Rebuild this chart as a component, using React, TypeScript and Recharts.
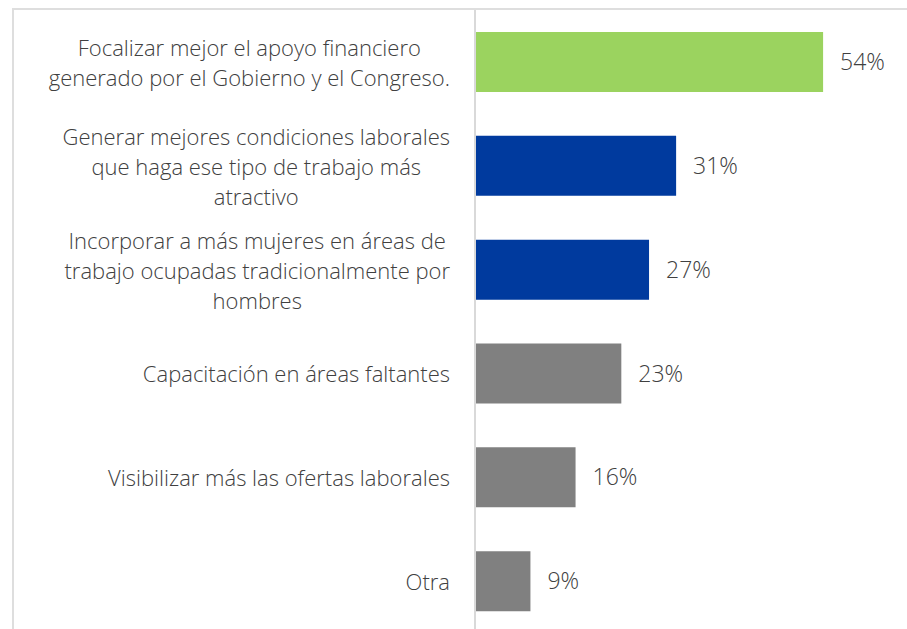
import { BarChart, Bar, XAxis, YAxis, Cell, LabelList } from "recharts";

const categories = [
  ["Focalizar mejor el apoyo financiero", "generado por el Gobierno y el Congreso."],
  ["Generar mejores condiciones laborales", "que haga ese tipo de trabajo más", "atractivo"],
  ["Incorporar a más mujeres en áreas de", "trabajo ocupadas tradicionalmente por", "hombres"],
  ["Capacitación en áreas faltantes"],
  ["Visibilizar más las ofertas laborales"],
  ["Otra"],
];
const values = [54, 31.2, 27, 22.7, 15.6, 8.6];
const colors = ["#9BD35F", "#003A9E", "#003A9E", "#808080", "#808080", "#808080"];

const FONT = "'Open Sans', 'Noto Sans', sans-serif";
const FONT_SIZE = 22;
const TEXT_COLOR = "#404040";

const data = categories.map((lines, i) => ({ name: String(i), value: values[i] }));

let ctx: CanvasRenderingContext2D | null = null;
const measure = (s: string) => {
  if (!ctx) ctx = document.createElement("canvas").getContext("2d");
  if (!ctx) return s.length * 10;
  ctx.font = `300 ${FONT_SIZE}px ${FONT}`;
  return ctx.measureText(s).width;
};

const CategoryTick = ({ x, y, payload }: any) => {
  const lines = categories[Number(payload.value)];
  const maxW = Math.max(...lines.map(measure));
  const right = x - 17;
  const cx = right - maxW / 2;
  const lh = 30;
  const start = -((lines.length - 1) * lh) / 2;
  return (
    <text
      x={cx}
      y={y}
      textAnchor="middle"
      fill={TEXT_COLOR}
      fontFamily={FONT}
      fontSize={FONT_SIZE}
      fontWeight={300}
    >
      {lines.map((l, i) => (
        <tspan key={i} x={cx} y={y + start + i * lh} dominantBaseline="central">
          {l}
        </tspan>
      ))}
    </text>
  );
};

export default function App() {
  return (
    <div style={{ position: "absolute", left: 0, top: 0, width: 907, height: 629, overflow: "hidden", background: "#fff" }}>
      <div
        style={{
          position: "absolute",
          left: 12,
          top: 8,
          width: 900,
          height: 640,
          borderTop: "2px solid #dedede",
          borderLeft: "2px solid #dedede",
        }}
      />
      <div style={{ position: "absolute", left: 0, top: 0 }}>
        <BarChart
          width={907}
          height={643}
          data={data}
          layout="vertical"
          margin={{ top: 10, right: 13, bottom: 10, left: 0 }}
          barSize={60}
        >
          <XAxis type="number" domain={[0, 65]} hide />
          <YAxis
            type="category"
            dataKey="name"
            width={475}
            tickLine={false}
            axisLine={{ stroke: "#d9d9d9", strokeWidth: 2 }}
            tick={<CategoryTick />}
            interval={0}
          />
          <Bar dataKey="value" isAnimationActive={false}>
            {data.map((d, i) => (
              <Cell key={i} fill={colors[i]} />
            ))}
            <LabelList
              dataKey="value"
              position="right"
              offset={17}
              formatter={(v: any) => `${Math.round(Number(v))}%`}
              style={{ fill: TEXT_COLOR, fontFamily: FONT, fontSize: 23, fontWeight: 300 }}
            />
          </Bar>
        </BarChart>
      </div>
    </div>
  );
}
